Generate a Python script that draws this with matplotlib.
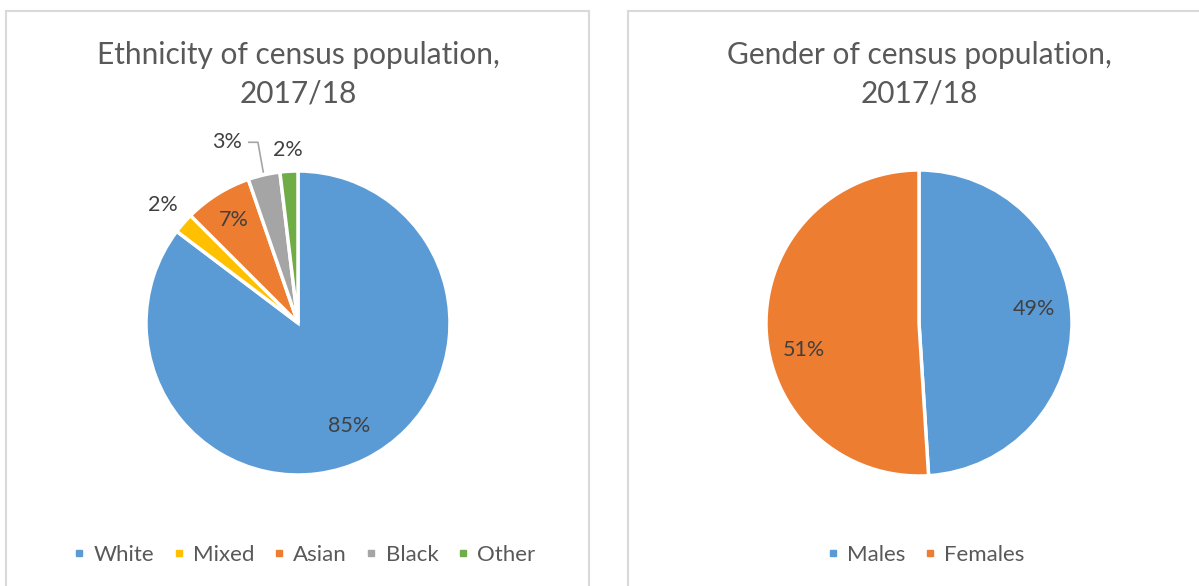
import numpy as np
import matplotlib.pyplot as plt
from matplotlib.patches import Rectangle
from matplotlib.lines import Line2D

plt.rcParams['font.family'] = ['Lato', 'DejaVu Sans']

# ethnicity split (percent of census population)
eth_labels = ["White", "Mixed", "Asian", "Black", "Other"]
eth_values = [85.3, 2.2, 7.2, 3.4, 1.9]
eth_colors = ["#5B9BD5", "#FFC000", "#ED7D31", "#A5A5A5", "#70AD47"]

# gender split
gen_labels = ["Males", "Females"]
gen_values = [49.0, 51.0]
gen_colors = ["#5B9BD5", "#ED7D31"]

W, H = 1199, 586
fig = plt.figure(figsize=(W / 100, H / 100), dpi=100)

TXT = "#595959"
LBL = "#404040"

# panel frames
for x0, x1 in [(6, 589), (628, 1210)]:
    fig.patches.append(Rectangle((x0 / W, -0.05), (x1 - x0) / W, (H - 11) / H + 0.05,
                                 transform=fig.transFigure, fill=False,
                                 edgecolor="#d9d9d9", linewidth=1.5))


def pie_axes(cx, cy, r, values, colors, half=210):
    ax = fig.add_axes([(cx - half) / W, (H - cy - half) / H, 2 * half / W, 2 * half / H])
    ax.pie(values, colors=colors, startangle=90, counterclock=False, radius=1,
           wedgeprops=dict(edgecolor="white", linewidth=2.5))
    lim = half / r
    ax.set_xlim(-lim, lim)
    ax.set_ylim(-lim, lim)
    ax.set_aspect("equal")
    ax.axis("off")
    return ax


def mid_dir(values, i):
    tot = sum(values)
    start = sum(values[:i]) / tot
    mid = (start + values[i] / tot / 2) * 2 * np.pi
    return np.sin(mid), np.cos(mid)


# ethnicity pie
ax1 = pie_axes(298, 323, 152, eth_values, eth_colors)
eth_pos = [0.76, 1.18, 0.8, 1.22, 1.14]
for i, v in enumerate(eth_values):
    sx, sy = mid_dir(eth_values, i)
    x, y = sx * eth_pos[i], sy * eth_pos[i]
    if eth_labels[i] == "Black":
        # label pulled to the left with a leader line back to the slice
        lx = x - 0.19
        ax1.plot([lx + 0.14, lx + 0.2, sx * 1.02], [y, y, sy * 1.02],
                 color="#A5A5A5", linewidth=1.2, clip_on=False)
        x = lx
    ax1.text(x, y, f"{v:.0f}%", ha="center", va="center", fontsize=15.5, color=LBL)

# gender pie
ax2 = pie_axes(919, 323, 153, gen_values, gen_colors)
for i, v in enumerate(gen_values):
    sx, sy = mid_dir(gen_values, i)
    ax2.text(sx * 0.75, sy * 0.75 + (0.07 if i == 0 else -0.15), f"{v:.0f}%",
             ha="center", va="center", fontsize=15.5, color=LBL)

# titles
for cx, title in [(298, "Ethnicity of census population,\n2017/18"),
                  (919, "Gender of census population,\n2017/18")]:
    fig.text(cx / W, 1 - 74 / H, title, ha="center", va="center",
             fontsize=21.5, color=TXT, linespacing=1.45)


def legend(labels, colors, cx):
    handles = [Line2D([], [], marker="s", linestyle="none", markersize=5,
                      markerfacecolor=c, markeredgecolor=c) for c in colors]
    fig.legend(handles, labels, loc="center", bbox_to_anchor=(cx / W, 1 - 555 / H),
               ncol=len(labels), frameon=False, fontsize=16, labelcolor=TXT,
               handletextpad=0.34, columnspacing=0.8, handlelength=0.6)


legend(eth_labels, eth_colors, 304)
legend(gen_labels, gen_colors, 925)

fig.savefig("out.png", dpi=100, facecolor="white")
